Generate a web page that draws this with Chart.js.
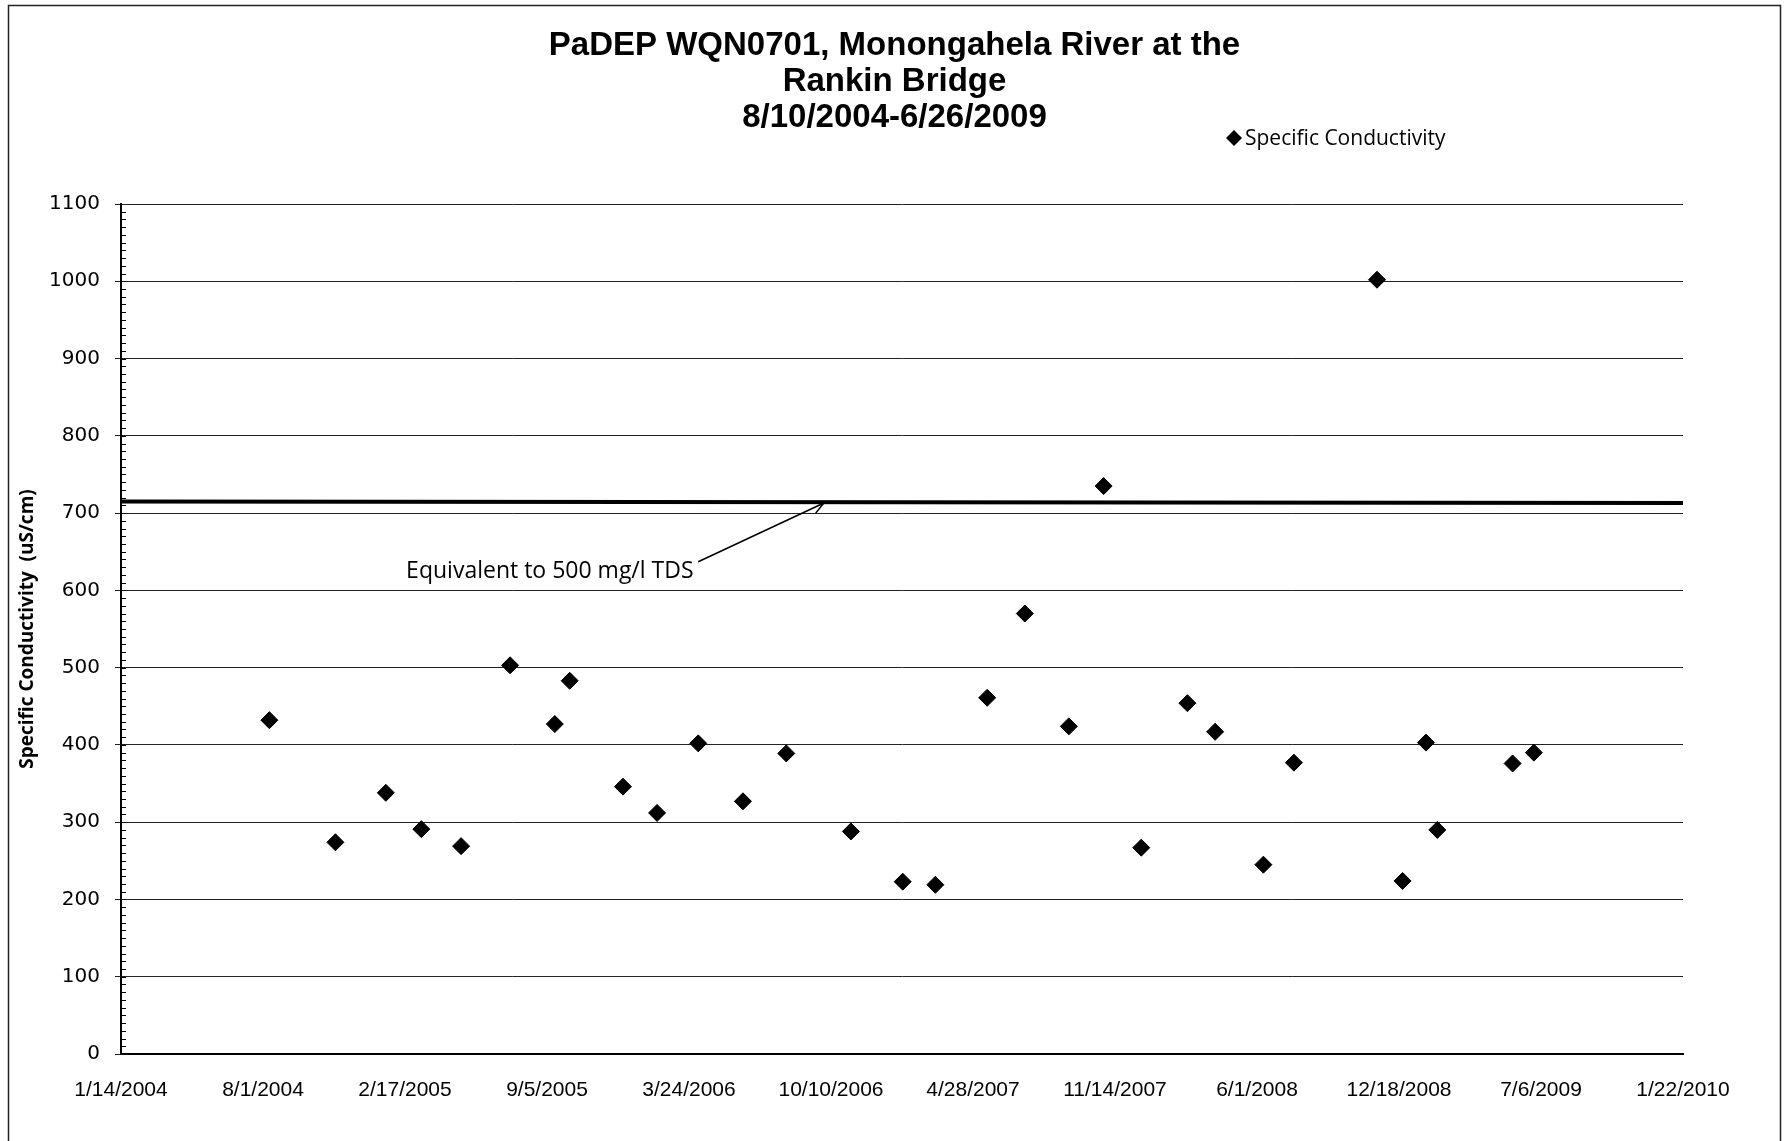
<!DOCTYPE html>
<html>
<head>
<meta charset="utf-8">
<title>PaDEP WQN0701 - Specific Conductivity</title>
<script src="https://cdn.jsdelivr.net/npm/chart.js@4.4.1/dist/chart.umd.min.js"></script>
<style>
  html, body { margin: 0; padding: 0; background: #fff; }
  #wrap { width: 1789px; height: 1141px; }
</style>
</head>
<body>
<div id="wrap"><canvas id="chart" width="1789" height="1141"></canvas></div>
<script>
// ---- data (x values are Excel serial day numbers) ----
const TITLE_LINES = ['PaDEP WQN0701, Monongahela River at the', 'Rankin Bridge', '8/10/2004-6/26/2009'];
const SERIES_NAME = 'Specific Conductivity';
const Y_TITLE = 'Specific Conductivity  (uS/cm)';

const sampleDays = [38209, 38302, 38373, 38423, 38479, 38548, 38611, 38632, 38707, 38755,
  38813, 38876, 38937, 39028, 39101, 39147, 39220, 39273, 39335, 39384,
  39437, 39502, 39541, 39609, 39652, 39769, 39805, 39838, 39854, 39960, 39990];
const conductivity = [432, 274, 338, 291, 269, 503, 427, 483, 346, 312,
  402, 327, 389, 288, 223, 219, 461, 570, 424, 735,
  267, 454, 417, 245, 377, 1002, 224, 403, 290, 376, 390];

// hand-drawn 500 mg/l TDS line in the original
const tdsLineDays = [38000, 40200];
const tdsLineValues = [715, 713];

const NOTE_TEXT = 'Equivalent to 500 mg/l TDS';
const noteAt = [38604, 625];
const arrowFrom = [38813, 637];
const arrowTo = [38990, 713];

const X_MIN = 38000, X_MAX = 40200, X_STEP = 200;
const Y_MIN = 0, Y_MAX = 1100, Y_STEP = 100, Y_MINOR = 10;

function serialToLabel(v) {
  const d = new Date(Date.UTC(1899, 11, 30) + v * 86400000);
  return `${d.getUTCMonth() + 1}/${d.getUTCDate()}/${d.getUTCFullYear()}`;
}

const decor = {
  id: 'decor',
  beforeDraw(chart) {
    const { ctx, width, height } = chart;
    ctx.save();
    ctx.fillStyle = '#fff';
    ctx.fillRect(0, 0, width, height);
    ctx.strokeStyle = '#222';
    ctx.lineWidth = 1.5;
    ctx.strokeRect(8.5, 5.5, 1772, height + 20);
    ctx.restore();
  },
  afterDraw(chart) {
    const { ctx, width, scales: { x, y } } = chart;
    ctx.save();

    // title
    ctx.fillStyle = '#000';
    ctx.textAlign = 'center';
    ctx.textBaseline = 'middle';
    ctx.font = 'bold 33px "Liberation Sans", Arial, sans-serif';
    TITLE_LINES.forEach((t, i) => ctx.fillText(t, width / 2, 46 + i * 36));

    // legend
    const lx = 1234, ly = 138, r = 8;
    ctx.beginPath();
    ctx.moveTo(lx, ly - r); ctx.lineTo(lx + r, ly); ctx.lineTo(lx, ly + r); ctx.lineTo(lx - r, ly);
    ctx.closePath();
    ctx.fill();
    ctx.textAlign = 'left';
    ctx.font = '21px "Open Sans", sans-serif';
    ctx.fillText(SERIES_NAME, lx + 11, ly + 1);

    // minor ticks, inside the y axis
    ctx.strokeStyle = '#000';
    ctx.lineWidth = 1;
    const ax = Math.round(x.left);
    for (let v = Y_MIN + Y_MINOR; v < Y_MAX; v += Y_MINOR) {
      const py = Math.round(y.getPixelForValue(v)) + 0.5;
      ctx.beginPath();
      ctx.moveTo(ax, py);
      ctx.lineTo(ax + 5, py);
      ctx.stroke();
    }

    // note with arrow
    ctx.font = '500 23px "Open Sans", sans-serif';
    ctx.textAlign = 'center';
    ctx.fillText(NOTE_TEXT, x.getPixelForValue(noteAt[0]), y.getPixelForValue(noteAt[1]));
    const x1 = x.getPixelForValue(arrowFrom[0]), y1 = y.getPixelForValue(arrowFrom[1]);
    const x2 = x.getPixelForValue(arrowTo[0]), y2 = y.getPixelForValue(arrowTo[1]);
    ctx.lineWidth = 1.5;
    ctx.beginPath();
    ctx.moveTo(x1, y1);
    ctx.lineTo(x2, y2);
    const ang = Math.atan2(y2 - y1, x2 - x1);
    [0.45, -0.45].forEach(a => {
      ctx.moveTo(x2, y2);
      ctx.lineTo(x2 - 13 * Math.cos(ang + a), y2 - 13 * Math.sin(ang + a));
    });
    ctx.stroke();
    ctx.restore();
  }
};

new Chart(document.getElementById('chart'), {
  type: 'scatter',
  data: {
    datasets: [
      {
        label: SERIES_NAME,
        data: sampleDays.map((d, i) => ({ x: d, y: conductivity[i] })),
        pointStyle: 'rectRot',
        pointRadius: 8.5,
        backgroundColor: '#000',
        borderColor: '#000',
        borderWidth: 1
      },
      {
        type: 'line',
        label: '500 mg/l TDS',
        data: tdsLineDays.map((d, i) => ({ x: d, y: tdsLineValues[i] })),
        borderColor: '#000',
        borderWidth: 4,
        pointRadius: 0,
        fill: false
      }
    ]
  },
  options: {
    responsive: false,
    animation: false,
    layout: { padding: { top: 204, right: 106, bottom: 0, left: 8 } },
    plugins: { legend: { display: false }, title: { display: false }, tooltip: { enabled: false } },
    scales: {
      x: {
        type: 'linear',
        min: X_MIN,
        max: X_MAX,
        afterFit: (s) => { s.height = 87; },
        grid: { display: false, drawTicks: false },
        border: { display: true, color: '#000', width: 2 },
        ticks: {
          stepSize: X_STEP,
          autoSkip: false,
          maxRotation: 0,
          padding: 24,
          color: '#000',
          font: { family: '"Liberation Sans", Arial, sans-serif', size: 21 },
          callback: (v) => serialToLabel(v)
        }
      },
      y: {
        min: Y_MIN,
        max: Y_MAX,
        afterFit: (s) => { s.width = 113; },
        grid: { color: '#222', lineWidth: 1, tickLength: 6 },
        border: { display: true, color: '#000', width: 2 },
        ticks: {
          stepSize: Y_STEP,
          padding: 15,
          color: '#000',
          font: { family: '"DejaVu Sans", Verdana, sans-serif', size: 20 },
          callback: (v) => String(v)
        },
        title: {
          display: true,
          text: Y_TITLE,
          color: '#000',
          padding: { top: 8, bottom: 0 },
          font: { family: '"Open Sans", sans-serif', size: 19, weight: 'bold' }
        }
      }
    }
  },
  plugins: [decor]
});
</script>
</body>
</html>
